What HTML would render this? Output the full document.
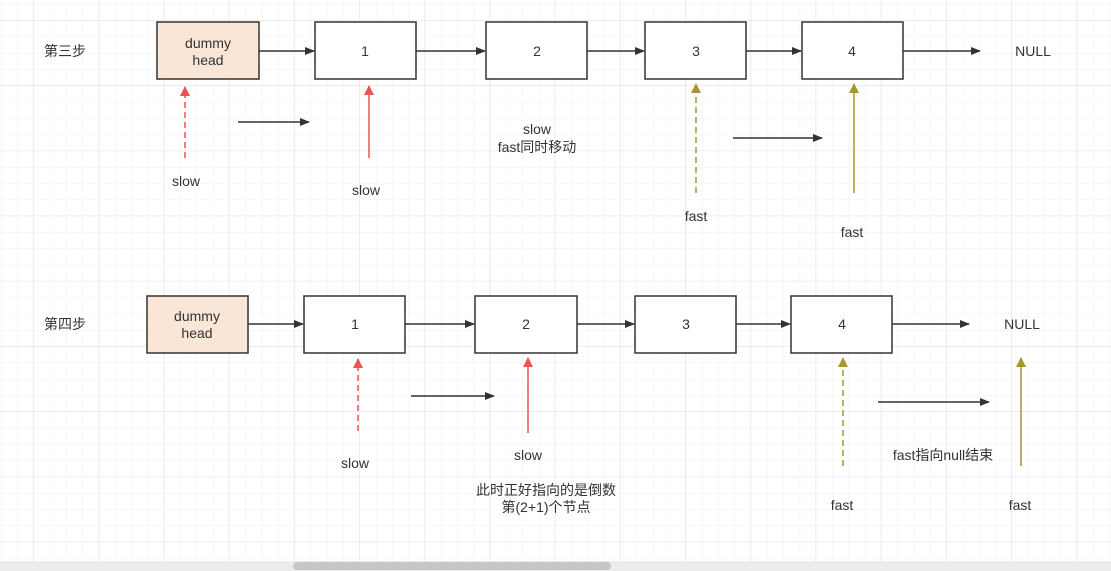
<!DOCTYPE html>
<html><head><meta charset="utf-8"><style>
html,body{margin:0;padding:0;background:#fff;}
svg{display:block;}
text{font-family:"Liberation Sans","Noto Sans CJK SC",sans-serif;font-size:14px;fill:#333;text-anchor:middle;dominant-baseline:central;}
</style></head><body>
<svg width="1111" height="571" viewBox="0 0 1111 571" xmlns="http://www.w3.org/2000/svg">
<defs>
<pattern id="g" x="1" y="4" width="16.3" height="16.3" patternUnits="userSpaceOnUse">
<path d="M0 0V16.3M0 0H16.3" stroke="#efefef" stroke-width="1" fill="none"/>
</pattern>
<pattern id="G" x="33" y="20" width="65.2" height="65.2" patternUnits="userSpaceOnUse">
<path d="M0 0V65.2M0 0H65.2" stroke="#e6e6e6" stroke-width="1" fill="none"/>
</pattern>
<marker id="ab" markerWidth="10" markerHeight="8" refX="9" refY="4" orient="auto" markerUnits="userSpaceOnUse"><path d="M0 0L10 4L0 8z" fill="#333"/></marker>
<marker id="ar" markerWidth="10" markerHeight="12" refX="9" refY="5" orient="auto" markerUnits="userSpaceOnUse"><path d="M0 0L10 5L0 10z" fill="#e85555"/></marker>
<marker id="ao" markerWidth="10" markerHeight="12" refX="9" refY="5" orient="auto" markerUnits="userSpaceOnUse"><path d="M0 0L10 5L0 10z" fill="#a8962e"/></marker>
</defs>
<rect width="1111" height="571" fill="url(#g)"/>
<rect width="1111" height="571" fill="url(#G)"/>

<g stroke="#333" stroke-width="1.5">
<rect x="157" y="22" width="102" height="57" fill="#fae6d6"/>
<rect x="315" y="22" width="101" height="57" fill="#fff"/>
<rect x="486" y="22" width="101" height="57" fill="#fff"/>
<rect x="645" y="22" width="101" height="57" fill="#fff"/>
<rect x="802" y="22" width="101" height="57" fill="#fff"/>
<line x1="259" y1="51" x2="314" y2="51" marker-end="url(#ab)"/>
<line x1="416" y1="51" x2="485" y2="51" marker-end="url(#ab)"/>
<line x1="587" y1="51" x2="644" y2="51" marker-end="url(#ab)"/>
<line x1="746" y1="51" x2="801" y2="51" marker-end="url(#ab)"/>
<line x1="903" y1="51" x2="980" y2="51" marker-end="url(#ab)"/>
<line x1="238" y1="122" x2="309" y2="122" marker-end="url(#ab)"/>
<line x1="733" y1="138" x2="822" y2="138" marker-end="url(#ab)"/>

<rect x="147" y="296" width="101" height="57" fill="#fae6d6"/>
<rect x="304" y="296" width="101" height="57" fill="#fff"/>
<rect x="475" y="296" width="102" height="57" fill="#fff"/>
<rect x="635" y="296" width="101" height="57" fill="#fff"/>
<rect x="791" y="296" width="101" height="57" fill="#fff"/>
<line x1="248" y1="324" x2="303" y2="324" marker-end="url(#ab)"/>
<line x1="405" y1="324" x2="474" y2="324" marker-end="url(#ab)"/>
<line x1="577" y1="324" x2="634" y2="324" marker-end="url(#ab)"/>
<line x1="736" y1="324" x2="790" y2="324" marker-end="url(#ab)"/>
<line x1="892" y1="324" x2="969" y2="324" marker-end="url(#ab)"/>
<line x1="411" y1="396" x2="494" y2="396" marker-end="url(#ab)"/>
<line x1="878" y1="402" x2="989" y2="402" marker-end="url(#ab)"/>
</g>

<g stroke-width="1.5" fill="none">
<line x1="185" y1="158" x2="185" y2="87" stroke="#e85555" stroke-dasharray="6,4" marker-end="url(#ar)"/>
<line x1="369" y1="158" x2="369" y2="86" stroke="#e85555" marker-end="url(#ar)"/>
<line x1="696" y1="193" x2="696" y2="84" stroke="#a8962e" stroke-dasharray="6,4" marker-end="url(#ao)"/>
<line x1="854" y1="193" x2="854" y2="84" stroke="#a8962e" marker-end="url(#ao)"/>
<line x1="358" y1="431" x2="358" y2="359" stroke="#e85555" stroke-dasharray="6,4" marker-end="url(#ar)"/>
<line x1="528" y1="433" x2="528" y2="358" stroke="#e85555" marker-end="url(#ar)"/>
<line x1="843" y1="466" x2="843" y2="358" stroke="#a8962e" stroke-dasharray="6,4" marker-end="url(#ao)"/>
<line x1="1021" y1="466" x2="1021" y2="358" stroke="#a8962e" marker-end="url(#ao)"/>
</g>

<text x="65" y="51" font-size="13">第三步</text>
<text x="208" y="43">dummy</text><text x="208" y="60">head</text>
<text x="365" y="51">1</text><text x="537" y="51">2</text><text x="696" y="51">3</text><text x="852" y="51">4</text>
<text x="1033" y="51">NULL</text>
<text x="186" y="181">slow</text><text x="366" y="190">slow</text>
<text x="537" y="129">slow</text><text x="537" y="147">fast同时移动</text>
<text x="696" y="216">fast</text><text x="852" y="232">fast</text>

<text x="65" y="324" font-size="13">第四步</text>
<text x="197" y="316">dummy</text><text x="197" y="333">head</text>
<text x="355" y="324">1</text><text x="526" y="324">2</text><text x="686" y="324">3</text><text x="842" y="324">4</text>
<text x="1022" y="324">NULL</text>
<text x="355" y="463">slow</text><text x="528" y="455">slow</text>
<text x="943" y="455">fast指向null结束</text>
<text x="546" y="490" font-size="13">此时正好指向的是倒数</text>
<text x="546" y="507" font-size="13">第(2+1)个节点</text>
<text x="842" y="505">fast</text><text x="1020" y="505">fast</text>

<rect x="0" y="561" width="1111" height="10" fill="#ebecee"/>
<rect x="293" y="562" width="318" height="8" rx="4" fill="#c6c6c6"/>
</svg>
</body></html>
